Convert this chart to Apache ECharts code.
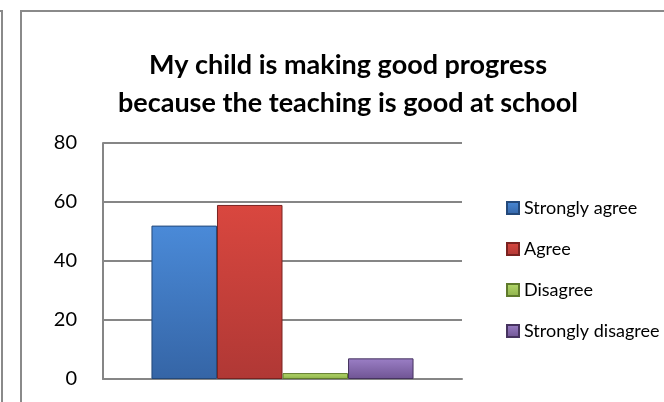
<!DOCTYPE html>
<html>
<head>
<meta charset="utf-8">
<script src="https://cdn.jsdelivr.net/npm/echarts@6/dist/echarts.min.js"></script>
<style>
  html, body { margin: 0; padding: 0; background: #fff; }
  #chart { width: 664px; height: 402px; }
</style>
</head>
<body>
<div id="chart"></div>
<script>
// 数据
var titleText = 'My child is making good progress\nbecause the teaching is good at school';
var categories = [''];
var seriesNames = ['Strongly agree', 'Agree', 'Disagree', 'Strongly disagree'];
var seriesValues = [[52], [59], [2], [7]];
var yTicks = { min: 0, max: 80, interval: 20 };

var fontName = 'Lato, "Open Sans", sans-serif';
// 颜色: 上亮下暗
var myColor = [
    ['#4a8ad8', '#3565a6', '#24497a'],
    ['#d9473f', '#b03835', '#7a2220'],
    ['#b4da6a', '#8fb04c', '#5f7a2c'],
    ['#9b7fc6', '#6f5493', '#46335f']
];

function barGradient(c) {
    return new echarts.graphic.LinearGradient(0, 0, 0, 1, [
        { offset: 0, color: c[0] },
        { offset: 1, color: c[1] }
    ]);
}

var myChart = echarts.init(document.getElementById('chart'));

var series = seriesNames.map(function (name, i) {
    return {
        name: name,
        type: 'bar',
        data: seriesValues[i],
        barGap: '0%',
        barCategoryGap: '27%',
        itemStyle: {
            color: barGradient(myColor[i]),
            borderColor: myColor[i][2],
            borderWidth: 1
        }
    };
});

var option = {
    animation: false,
    textStyle: { fontFamily: fontName },
    title: {
        text: titleText,
        left: 343,
        top: 41,
        textAlign: 'center',
        textStyle: {
            fontFamily: fontName,
            fontSize: 27,
            fontWeight: 'bold',
            color: '#000',
            lineHeight: 38
        }
    },
    legend: {
        orient: 'vertical',
        left: 501,
        top: 194,
        itemWidth: 12,
        itemHeight: 12,
        itemGap: 23,
        icon: 'rect',
        data: seriesNames,
        textStyle: { fontFamily: fontName, fontSize: 18, color: '#000', lineHeight: 16 }
    },
    grid: {
        left: 103,
        top: 143,
        width: 359,
        height: 236
    },
    xAxis: {
        type: 'category',
        data: categories,
        axisLine: { lineStyle: { color: '#868686', width: 2 } },
        axisTick: { show: false },
        axisLabel: { show: false }
    },
    yAxis: {
        type: 'value',
        min: yTicks.min,
        max: yTicks.max,
        interval: yTicks.interval,
        axisLine: { show: true, lineStyle: { color: '#868686', width: 2 } },
        axisTick: { show: false },
        axisLabel: { color: '#000', fontSize: 20, margin: 26, fontFamily: fontName },
        splitLine: { lineStyle: { color: '#868686', width: 2 } }
    },
    graphic: [
        // 左侧相邻图框的边线
        { type: 'polyline', shape: { points: [[0, 11], [2, 11], [2, 402]] },
          style: { stroke: '#8a8a8a', fill: null, lineWidth: 2 } },
        // 本图外框
        { type: 'polyline', shape: { points: [[21, 402], [21, 11], [664, 11]] },
          style: { stroke: '#8a8a8a', fill: null, lineWidth: 2 } }
    ],
    series: series
};

myChart.setOption(option);
</script>
</body>
</html>
